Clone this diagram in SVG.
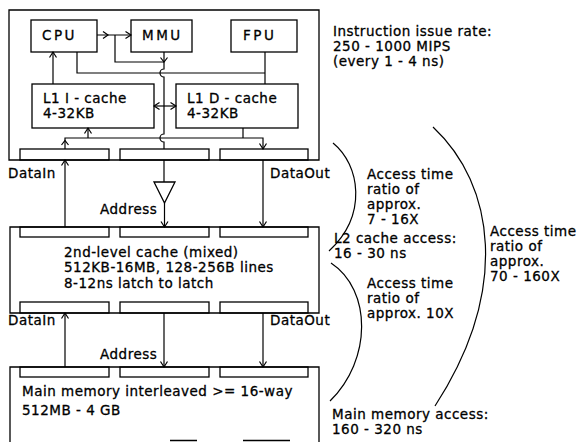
<svg xmlns="http://www.w3.org/2000/svg" width="587" height="442" viewBox="0 0 587 442">
<style>
.b{fill:none;stroke:#000;stroke-width:1.3}
.w{fill:#fff;stroke:#000;stroke-width:1.3}
.c{fill:none;stroke:#000;stroke-width:1.2}
text{font-family:"DejaVu Sans","Liberation Sans",sans-serif;font-size:13.5px;letter-spacing:0.5px;fill:#000;stroke:#000;stroke-width:0.3}
.lb{letter-spacing:2.5px}
</style>
<defs>
<marker id="a" markerUnits="userSpaceOnUse" markerWidth="10" markerHeight="10" refX="6" refY="4" orient="auto-start-reverse" viewBox="0 0 10 10">
<path d="M0.5,0.5 L6,4 L0.5,7.5" fill="none" stroke="#000" stroke-width="1.2"/>
</marker>
</defs>
<rect width="587" height="442" fill="#fff"/>

<g id="processor">
<path class="b" d="M9,10 H319 V160 H9 Z"/>
<rect class="b" x="20" y="149" width="89" height="11"/>
<rect class="b" x="120" y="149" width="89" height="11"/>
<rect class="b" x="220" y="149" width="88" height="11"/>
</g>
<g id="cpu"><rect class="b" x="31" y="20" width="66" height="32"/><text class="lb" x="42" y="40">CPU</text></g>
<g id="mmu"><rect class="b" x="131" y="20" width="61" height="32"/><text class="lb" x="142" y="40">MMU</text></g>
<g id="fpu"><rect class="b" x="231" y="20" width="66" height="32"/><text class="lb" x="243" y="40">FPU</text></g>
<g id="l1i"><rect class="b" x="32" y="84" width="122" height="44"/><text x="43" y="103">L1 I - cache</text><text x="43" y="118">4-32KB</text></g>
<g id="l1d"><rect class="b" x="176" y="84" width="122" height="44"/><text x="187" y="103">L1 D - cache</text><text x="187" y="118">4-32KB</text></g>

<g id="l2">
<path class="b" d="M10,227 H319 V313 H10 Z"/>
<rect class="b" x="20" y="227" width="89" height="10"/>
<rect class="b" x="120" y="227" width="89" height="10"/>
<rect class="b" x="220" y="227" width="88" height="10"/>
<rect class="b" x="20" y="302" width="89" height="11"/>
<rect class="b" x="120" y="302" width="89" height="11"/>
<rect class="b" x="220" y="302" width="88" height="11"/>
<text x="64" y="257">2nd-level cache (mixed)</text>
<text x="64" y="272">512KB-16MB, 128-256B lines</text>
<text x="64" y="288">8-12ns latch to latch</text>
</g>

<g id="mainmem">
<path class="b" d="M10,443 V367 H319 V443"/>
<rect class="b" x="20" y="367" width="89" height="10"/>
<rect class="b" x="120" y="367" width="89" height="10"/>
<rect class="b" x="220" y="367" width="88" height="10"/>
<text x="22" y="396">Main memory interleaved  &gt;= 16-way</text>
<text x="22" y="415">512MB - 4 GB</text>
<path class="b" d="M170,440.5 H197 M243,440.5 H290"/>
</g>

<g id="connectors">
<line class="c" x1="97" y1="35" x2="131" y2="35" marker-end="url(#a)"/>
<path class="c" d="M103,31.5 L108,35 L103,38.5"/>
<path class="c" d="M115,35 V62 H164"/>
<path class="c" d="M160.5,57.5 L164,62 L167.5,57.5"/>
<path class="c" d="M164,52 V69 A4,4 0 0 0 164,77 V134 A4,4 0 0 0 164,142 V149"/>
<path class="c" d="M77,52 V73 H265"/>
<line class="c" x1="265" y1="52" x2="265" y2="84"/>
<line class="c" x1="53" y1="84" x2="53" y2="52" marker-end="url(#a)"/>
<line class="c" x1="154" y1="106" x2="176" y2="106" marker-start="url(#a)" marker-end="url(#a)"/>
<path class="c" d="M65,149 V138 H263 V149" marker-end="url(#a)"/>
<path class="c" d="M61.5,145 L65,140.5 L68.5,145"/>
<line class="c" x1="88" y1="138" x2="88" y2="128" marker-end="url(#a)"/>
<line class="c" x1="243" y1="128" x2="243" y2="138"/>

<line class="c" x1="65" y1="227" x2="65" y2="160" marker-end="url(#a)"/>
<line class="c" x1="164" y1="160" x2="164" y2="182"/>
<polygon class="w" points="154,182 175,182 164.5,203"/>
<line class="c" x1="164.5" y1="203" x2="164.5" y2="227" marker-end="url(#a)"/>
<line class="c" x1="263" y1="160" x2="263" y2="227" marker-end="url(#a)"/>

<line class="c" x1="65" y1="367" x2="65" y2="313" marker-end="url(#a)"/>
<line class="c" x1="164" y1="313" x2="164" y2="367" marker-end="url(#a)"/>
<line class="c" x1="263" y1="313" x2="263" y2="367" marker-end="url(#a)"/>
</g>

<g id="labels">
<text x="8" y="178">DataIn</text>
<text x="100" y="214">Address</text>
<text x="270" y="178">DataOut</text>
<text x="8" y="325">DataIn</text>
<text x="100" y="359">Address</text>
<text x="270" y="325">DataOut</text>
</g>

<g id="annotations">
<path class="c" d="M333,143 C360,165 368,215 329,251"/>
<path class="c" d="M331,263 C372,290 372,360 330,401"/>
<path class="c" d="M433,127 C495,185 510,290 435,406"/>
<text x="333" y="36">Instruction issue rate:</text>
<text x="333" y="51">250 - 1000 MIPS</text>
<text x="333" y="66">(every 1 - 4 ns)</text>
<text x="367" y="179">Access time</text>
<text x="367" y="194">ratio of</text>
<text x="367" y="209">approx.</text>
<text x="367" y="224">7 - 16X</text>
<text x="334" y="243">L2 cache access:</text>
<text x="334" y="258">16 - 30 ns</text>
<text x="367" y="288">Access time</text>
<text x="367" y="303">ratio of</text>
<text x="367" y="318">approx. 10X</text>
<text x="490" y="236">Access time</text>
<text x="490" y="251">ratio of</text>
<text x="490" y="266">approx.</text>
<text x="490" y="281">70 - 160X</text>
<text x="332" y="419">Main memory access:</text>
<text x="332" y="434">160 - 320 ns</text>
</g>
</svg>
